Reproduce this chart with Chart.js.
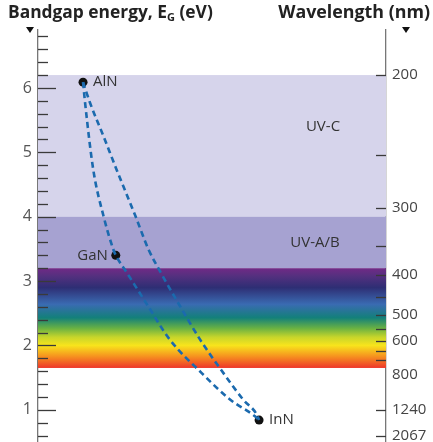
<!DOCTYPE html>
<html>
<head>
<meta charset="utf-8">
<script src="https://cdn.jsdelivr.net/npm/chart.js@4.4.1/dist/chart.umd.min.js"></script>
<style>
  html, body { margin: 0; padding: 0; background: #fff; }
  #wrap { width: 433px; height: 442px; }
</style>
</head>
<body>
<div id="wrap"><canvas id="gapchart" width="433" height="442"></canvas></div>
<script>
// materials: lattice constant a (Å) vs bandgap (eV)
const materials = ['AlN', 'GaN', 'InN'];
const latticeA = [3.11, 3.19, 3.54];
const bandgapE = [6.09, 3.40, 0.84];

// AlN -> GaN -> InN
const curveGaX = [3.11, 3.115, 3.135, 3.160, 3.184, 3.19, 3.217, 3.269, 3.322, 3.400, 3.469, 3.530, 3.54];
const curveGaY = [6.09, 5.77, 4.73, 4.01, 3.49, 3.40, 3.13, 2.61, 2.09, 1.57, 1.16, 0.90, 0.84];

// AlN -> InN
const curveInX = [3.11, 3.127, 3.160, 3.192, 3.238, 3.270, 3.300, 3.347, 3.396, 3.453, 3.501, 3.534, 3.54];
const curveInY = [6.09, 5.77, 5.25, 4.73, 4.01, 3.49, 3.13, 2.61, 2.09, 1.57, 1.16, 0.93, 0.84];

// UV bands (eV)
const bandNames = ['UV-C', 'UV-A/B'];
const bandLow = [4.0, 3.2];
const bandHigh = [6.2, 4.0];
const bandColors = ['#d6d4eb', '#a6a2d1'];
const bandLabelE = [5.4, 3.6];

// visible spectrum, energy of each colour stop
const spectrumE = [3.20, 3.08, 2.90, 2.64, 2.43, 2.26, 2.13, 2.00, 1.83, 1.66];
const spectrumColors = ['#712a86', '#55307f', '#2e2e74', '#3a6bb2', '#13807a', '#6db341', '#c6d52b', '#f8e41c', '#f6921f', '#ee3b2a'];
const spectrumLow = 1.65;
const spectrumHigh = 3.2;

// axis ticks
const energyMajor = [1, 2, 3, 4, 5, 6];
const wavelengthTicks = [200, 250, 300, 350, 400, 450, 500, 550, 600, 650, 700, 1240, 2067];
const wavelengthLabels = [200, 300, 400, 500, 600, 800, 1240, 2067];

const energyTicks = [];
for (let i = 3; i <= 34; i++) energyTicks.push(+(i * 0.2).toFixed(1));

const blue = '#1b6aae';
const txt = '#333';

const decor = {
    id: 'decor',
    beforeDatasetsDraw(chart) {
        const { ctx, chartArea: a, scales } = chart;
        const y = scales.y;
        ctx.save();
        // UV bands
        bandNames.forEach((n, i) => {
            const t = y.getPixelForValue(bandHigh[i]);
            const b = y.getPixelForValue(bandLow[i]);
            ctx.fillStyle = bandColors[i];
            ctx.fillRect(a.left, t, a.right - a.left, b - t);
        });
        // visible spectrum
        const st = y.getPixelForValue(spectrumHigh);
        const sb = y.getPixelForValue(spectrumLow);
        const g = ctx.createLinearGradient(0, st, 0, sb);
        spectrumE.forEach((e, i) => {
            g.addColorStop((y.getPixelForValue(e) - st) / (sb - st), spectrumColors[i]);
        });
        ctx.fillStyle = g;
        ctx.fillRect(a.left, st, a.right - a.left, sb - st);

        // inward ticks, left axis
        ctx.strokeStyle = '#3a3a3a';
        ctx.lineWidth = 1.3;
        energyTicks.forEach(v => {
            const py = Math.round(y.getPixelForValue(v)) + 0.5;
            const len = energyMajor.includes(v) ? 18 : 10;
            ctx.beginPath();
            ctx.moveTo(a.left, py);
            ctx.lineTo(a.left + len, py);
            ctx.stroke();
        });
        // inward ticks, right axis
        wavelengthTicks.forEach(w => {
            const py = Math.round(y.getPixelForValue(1240 / w)) + 0.5;
            ctx.beginPath();
            ctx.moveTo(a.right - 10, py);
            ctx.lineTo(a.right, py);
            ctx.stroke();
        });

        // tick labels
        ctx.textBaseline = 'middle';
        ctx.fillStyle = '#555';
        ctx.font = '16px "Open Sans"';
        ctx.textAlign = 'right';
        energyMajor.forEach(v => ctx.fillText(String(v), a.left - 6, y.getPixelForValue(v)));
        ctx.fillStyle = '#444';
        ctx.font = '15px "Open Sans"';
        ctx.textAlign = 'left';
        wavelengthLabels.forEach(w => ctx.fillText(String(w), a.right + 6, y.getPixelForValue(1240 / w)));

        // band labels
        ctx.fillStyle = txt;
        ctx.font = '15px "Open Sans"';
        ctx.textAlign = 'center';
        ctx.fillText(bandNames[0], 323, y.getPixelForValue(bandLabelE[0]));
        ctx.fillText(bandNames[1], 315, y.getPixelForValue(bandLabelE[1]));
        ctx.restore();
    },
    afterDraw(chart) {
        const { ctx, scales } = chart;
        const x = scales.x, y = scales.y;
        ctx.save();
        // point labels
        ctx.fillStyle = txt;
        ctx.font = '15px "Open Sans"';
        ctx.textBaseline = 'middle';
        materials.forEach((m, i) => {
            const px = x.getPixelForValue(latticeA[i]);
            const py = y.getPixelForValue(bandgapE[i]);
            if (m === 'GaN') {
                ctx.textAlign = 'right';
                ctx.fillText(m, px - 8, py);
            } else {
                ctx.textAlign = 'left';
                ctx.fillText(m, px + 10, py);
            }
        });

        // axis titles
        const fam = '"Open Sans"';
        ctx.fillStyle = '#222';
        ctx.textAlign = 'left';
        ctx.textBaseline = 'alphabetic';
        const t1 = 'Bandgap energy, E', t2 = ' (eV)';
        ctx.font = 'bold 20px ' + fam;
        const w20 = ctx.measureText(t1 + t2).width;
        ctx.font = 'bold 11px ' + fam;
        const wG = ctx.measureText('G').width;
        const s1 = 20 * (205 - wG) / w20;
        let tx = 8;
        ctx.font = 'bold ' + s1 + 'px ' + fam;
        ctx.fillText(t1, tx, 18);
        tx += ctx.measureText(t1).width;
        ctx.font = 'bold 11px ' + fam;
        ctx.fillText('G', tx, 21);
        tx += wG;
        ctx.font = 'bold ' + s1 + 'px ' + fam;
        ctx.fillText(t2, tx, 18);

        const t3 = 'Wavelength (nm)';
        ctx.font = 'bold 20px ' + fam;
        const s3 = 20 * 152 / ctx.measureText(t3).width;
        ctx.font = 'bold ' + s3 + 'px ' + fam;
        ctx.textAlign = 'right';
        ctx.fillText(t3, 430, 18);

        // small triangles
        ctx.fillStyle = '#111';
        [[30, 27], [406, 27]].forEach(([cx, cy]) => {
            ctx.beginPath();
            ctx.moveTo(cx - 4, cy);
            ctx.lineTo(cx + 4, cy);
            ctx.lineTo(cx, cy + 6);
            ctx.closePath();
            ctx.fill();
        });
        ctx.restore();
    }
};

const ctx = document.getElementById('gapchart').getContext('2d');

const gapChart = new Chart(ctx, {
    type: 'scatter',
    data: {
        datasets: [
            {
                label: 'AlGaN / InGaN',
                data: curveGaX.map((v, i) => ({ x: v, y: curveGaY[i] })),
                showLine: true,
                borderColor: blue,
                borderWidth: 2.6,
                borderDash: [6, 4],
                pointRadius: 0,
                cubicInterpolationMode: 'monotone'
            },
            {
                label: 'AlInN',
                data: curveInX.map((v, i) => ({ x: v, y: curveInY[i] })),
                showLine: true,
                borderColor: blue,
                borderWidth: 2.6,
                borderDash: [6, 4],
                pointRadius: 0,
                cubicInterpolationMode: 'monotone'
            },
            {
                label: 'Binaries',
                data: latticeA.map((v, i) => ({ x: v, y: bandgapE[i] })),
                pointRadius: 4.5,
                pointBackgroundColor: '#111',
                pointBorderWidth: 0
            }
        ]
    },
    plugins: [decor],
    options: {
        responsive: false,
        animation: false,
        layout: { autoPadding: false, padding: { top: 30, bottom: 0, left: 0, right: 0 } },
        plugins: {
            legend: { display: false },
            tooltip: { enabled: false }
        },
        scales: {
            x: {
                type: 'linear',
                display: false,
                min: 3.0,
                max: 3.85
            },
            y: {
                type: 'linear',
                position: 'left',
                min: 0.5,
                max: 6.9,
                afterFit: s => { s.width = 38; },
                grid: { display: true, drawOnChartArea: false, drawTicks: false },
                border: { display: true, color: '#777', width: 1.3 },
                ticks: { display: false }
            },
            y2: {
                type: 'linear',
                position: 'right',
                min: 0.5,
                max: 6.9,
                afterFit: s => { s.width = 47; },
                grid: { display: true, drawOnChartArea: false, drawTicks: false },
                border: { display: true, color: '#777', width: 1.3 },
                ticks: { display: false }
            }
        }
    }
});
</script>
</body>
</html>
